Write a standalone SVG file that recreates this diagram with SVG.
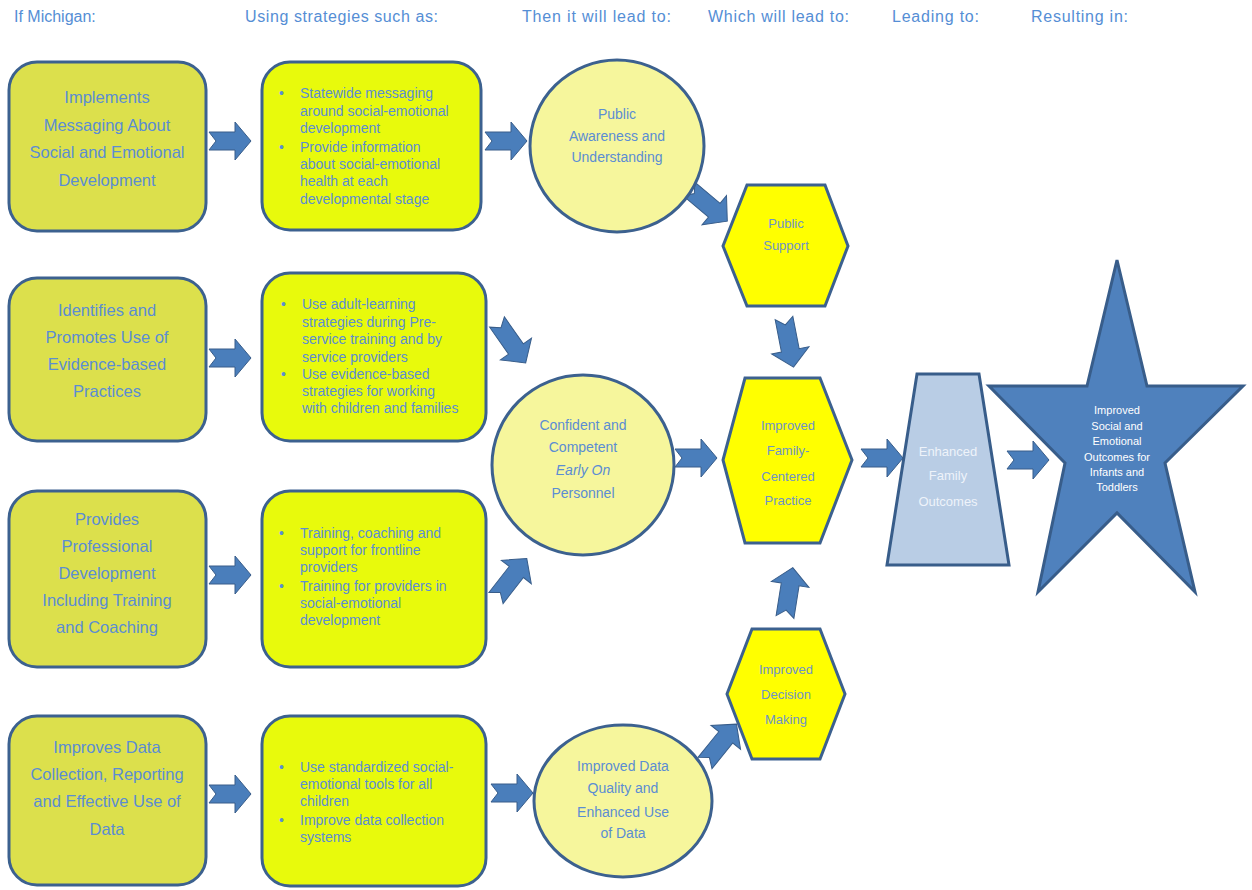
<svg xmlns="http://www.w3.org/2000/svg" width="1252" height="890" viewBox="0 0 1252 890">
<style>
text{font-family:"Liberation Sans",Arial,sans-serif;fill:#5b8dd3}
.hdr{font-size:16px;fill:#558ed5}
.c1 rect{fill:#dce04c;stroke:#3c618f;stroke-width:3}
.c1 text{font-size:16.5px;text-anchor:middle}
.c2 rect{fill:#e8fa0c;stroke:#3c618f;stroke-width:3}
.c2 text{font-size:14px}
.circ ellipse{fill:#f6f69c;stroke:#3c618f;stroke-width:3}
.circ text{font-size:14px;text-anchor:middle}
.hex polygon{fill:#ffff00;stroke:#3c618f;stroke-width:3}
.hex text{font-size:13px;text-anchor:middle;fill:#6e93c8}
.arr path{fill:#4a7ebb;stroke:#385d8a;stroke-width:1}
</style>
<defs>
<path id="a42" d="M0,-9 L26,-9 L26,-19 L42,0 L26,19 L26,9 L0,9 L7,0 Z"/>
<path id="a50" d="M0,-9 L33,-9 L33,-19 L50,0 L33,19 L33,9 L0,9 L7,0 Z"/>
</defs>

<g id="headers">
<text class="hdr" x="14" y="22">If Michigan:</text>
<text class="hdr" x="245" y="22" textLength="193">Using strategies such as:</text>
<text class="hdr" x="522" y="22" textLength="149">Then it will lead to:</text>
<text class="hdr" x="708" y="22" textLength="141">Which will lead to:</text>
<text class="hdr" x="892" y="22" textLength="87">Leading to:</text>
<text class="hdr" x="1031" y="22" textLength="97">Resulting in:</text>
</g>

<g id="connectors" class="arr">
<use href="#a42" fill="#4a7ebb" stroke="#385d8a" transform="translate(209,141)"/>
<use href="#a42" fill="#4a7ebb" stroke="#385d8a" transform="translate(209,358)"/>
<use href="#a42" fill="#4a7ebb" stroke="#385d8a" transform="translate(209,575)"/>
<use href="#a42" fill="#4a7ebb" stroke="#385d8a" transform="translate(209,794)"/>
<use href="#a42" fill="#4a7ebb" stroke="#385d8a" transform="translate(485,141)"/>
<use href="#a50" fill="#4a7ebb" stroke="#385d8a" transform="translate(497,322) rotate(55)"/>
<use href="#a50" fill="#4a7ebb" stroke="#385d8a" transform="translate(496,598) rotate(-52)"/>
<use href="#a42" fill="#4a7ebb" stroke="#385d8a" transform="translate(491,793)"/>
<use href="#a42" fill="#4a7ebb" stroke="#385d8a" transform="translate(675,458)"/>
<use href="#a50" fill="#4a7ebb" stroke="#385d8a" transform="translate(689,189) rotate(40)"/>
<use href="#a50" fill="#4a7ebb" stroke="#385d8a" transform="translate(784,318) rotate(79)"/>
<use href="#a50" fill="#4a7ebb" stroke="#385d8a" transform="translate(785,617) rotate(-81)"/>
<use href="#a50" fill="#4a7ebb" stroke="#385d8a" transform="translate(705,763) rotate(-51)"/>
<use href="#a42" fill="#4a7ebb" stroke="#385d8a" transform="translate(861,458)"/>
<use href="#a42" fill="#4a7ebb" stroke="#385d8a" transform="translate(1007,460)"/>
</g>

<g id="n-implements" class="c1">
<rect x="9" y="62" width="197" height="169" rx="28"/>
<text x="107" y="103">Implements</text>
<text x="107" y="131">Messaging About</text>
<text x="107" y="158">Social and Emotional</text>
<text x="107" y="186">Development</text>
</g>
<g id="n-identifies" class="c1">
<rect x="9" y="278" width="197" height="163" rx="28"/>
<text x="107" y="316">Identifies and</text>
<text x="107" y="343">Promotes Use of</text>
<text x="107" y="370">Evidence-based</text>
<text x="107" y="397">Practices</text>
</g>
<g id="n-provides" class="c1">
<rect x="9" y="491" width="197" height="176" rx="28"/>
<text x="107" y="525">Provides</text>
<text x="107" y="552">Professional</text>
<text x="107" y="579">Development</text>
<text x="107" y="606">Including Training</text>
<text x="107" y="633">and Coaching</text>
</g>
<g id="n-improves" class="c1">
<rect x="9" y="716" width="197" height="169" rx="28"/>
<text x="107" y="753">Improves Data</text>
<text x="107" y="780">Collection, Reporting</text>
<text x="107" y="807">and Effective Use of</text>
<text x="107" y="835">Data</text>
</g>

<g id="s-messaging" class="c2">
<rect x="262" y="62" width="219" height="168" rx="28"/>
<text x="279" y="98">•</text>
<text x="300" y="98">Statewide messaging</text>
<text x="300" y="116">around social-emotional</text>
<text x="300" y="133">development</text>
<text x="279" y="152">•</text>
<text x="300" y="152">Provide information</text>
<text x="300" y="169">about social-emotional</text>
<text x="300" y="186">health at each</text>
<text x="300" y="204">developmental stage</text>
</g>
<g id="s-adult" class="c2">
<rect x="262" y="273" width="224" height="168" rx="28"/>
<text x="281" y="309">•</text>
<text x="302" y="309">Use adult-learning</text>
<text x="302" y="327">strategies during Pre-</text>
<text x="302" y="344">service training and by</text>
<text x="302" y="362">service providers</text>
<text x="281" y="379">•</text>
<text x="302" y="379">Use evidence-based</text>
<text x="302" y="396">strategies for working</text>
<text x="302" y="413">with children and families</text>
</g>
<g id="s-training" class="c2">
<rect x="262" y="491" width="224" height="176" rx="28"/>
<text x="279" y="538">•</text>
<text x="300" y="538">Training, coaching and</text>
<text x="300" y="555">support for frontline</text>
<text x="300" y="572">providers</text>
<text x="279" y="591">•</text>
<text x="300" y="591">Training for providers in</text>
<text x="300" y="608">social-emotional</text>
<text x="300" y="625">development</text>
</g>
<g id="s-data" class="c2">
<rect x="262" y="716" width="224" height="170" rx="28"/>
<text x="279" y="772">•</text>
<text x="300" y="772">Use standardized social-</text>
<text x="300" y="789">emotional tools for all</text>
<text x="300" y="806">children</text>
<text x="279" y="825">•</text>
<text x="300" y="825">Improve data collection</text>
<text x="300" y="842">systems</text>
</g>

<g id="c-awareness" class="circ">
<ellipse cx="617" cy="146" rx="87" ry="86"/>
<text x="617" y="119">Public</text>
<text x="617" y="141">Awareness and</text>
<text x="617" y="162">Understanding</text>
</g>
<g id="c-confident" class="circ">
<ellipse cx="583" cy="465" rx="91" ry="90"/>
<text x="583" y="430">Confident and</text>
<text x="583" y="452">Competent</text>
<text x="583" y="475" font-style="italic">Early On</text>
<text x="583" y="498">Personnel</text>
</g>
<g id="c-dataquality" class="circ">
<ellipse cx="623" cy="801" rx="89" ry="76"/>
<text x="623" y="771">Improved Data</text>
<text x="623" y="793">Quality and</text>
<text x="623" y="817">Enhanced Use</text>
<text x="623" y="838">of Data</text>
</g>

<g id="h-support" class="hex">
<polygon points="747,185 825,185 848,246 825,306 747,306 723,246"/>
<text x="786" y="228">Public</text>
<text x="786" y="250">Support</text>
</g>
<g id="h-practice" class="hex">
<polygon points="745,378 820,378 852,460 820,543 745,543 723,460"/>
<text x="788" y="430">Improved</text>
<text x="788" y="455">Family-</text>
<text x="788" y="481">Centered</text>
<text x="788" y="505">Practice</text>
</g>
<g id="h-decision" class="hex">
<polygon points="752,629 820,629 845,694 820,759 752,759 727,694"/>
<text x="786" y="674">Improved</text>
<text x="786" y="699">Decision</text>
<text x="786" y="724">Making</text>
</g>

<g id="t-family">
<polygon points="917,374 979,374 1009,565 887,565" fill="#b9cde5" stroke="#385d8a" stroke-width="3"/>
<text x="948" y="456" font-size="13" text-anchor="middle" style="fill:#eef3fa">Enhanced</text>
<text x="948" y="480" font-size="13" text-anchor="middle" style="fill:#eef3fa">Family</text>
<text x="948" y="506" font-size="13" text-anchor="middle" style="fill:#eef3fa">Outcomes</text>
</g>

<g id="star-outcomes">
<polygon points="1117,260 1147,386 1243,386 1165,463 1195,592 1117,513 1038,592 1065,463 989,386 1087,386" fill="#4f81bd" stroke="#385d8a" stroke-width="3"/>
<text x="1117" y="414" font-size="11" text-anchor="middle" style="fill:#ffffff">Improved</text>
<text x="1117" y="430" font-size="11" text-anchor="middle" style="fill:#ffffff">Social and</text>
<text x="1117" y="445" font-size="11" text-anchor="middle" style="fill:#ffffff">Emotional</text>
<text x="1117" y="461" font-size="11" text-anchor="middle" style="fill:#ffffff">Outcomes for</text>
<text x="1117" y="476" font-size="11" text-anchor="middle" style="fill:#ffffff">Infants and</text>
<text x="1117" y="491" font-size="11" text-anchor="middle" style="fill:#ffffff">Toddlers</text>
</g>
</svg>
